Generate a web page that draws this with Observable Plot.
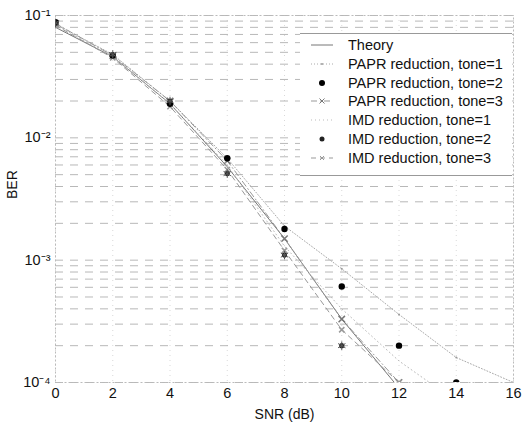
<!DOCTYPE html>
<html><head><meta charset="utf-8">
<script src="https://cdn.jsdelivr.net/npm/d3@7"></script>
<script src="https://cdn.jsdelivr.net/npm/@observablehq/plot@0.6"></script>
<style>
body{margin:0;background:#fff;font-family:"Liberation Sans",Arial,Helvetica,sans-serif;}
#wrap{position:relative;width:522px;height:424px;overflow:hidden;}
#legend{position:absolute;left:300px;top:33px;width:212px;height:143px;background:#fff;border-top:1px solid #999;border-bottom:1px solid #999;box-sizing:border-box;}
.ent{position:absolute;left:0;height:18px;display:flex;align-items:center;font-size:14.5px;color:#111;white-space:nowrap;}
.ent svg{margin-left:10px;margin-right:14px;}
</style></head><body><div id="wrap"></div>
<script>
// ---- data ----
const snrTheory = [0, 2, 4, 6, 8, 10, 12];
const berTheory = [0.080, 0.046, 0.019, 0.0058, 0.0015, 0.00033, 0.00009];

const snrPapr1 = [0, 2, 4, 6, 8, 10, 12, 14, 16];
const berPapr1 = [0.085, 0.048, 0.020, 0.0068, 0.0019, 0.00085, 0.00036, 0.00016, 0.00010];

const snrPapr2 = [0, 2, 4, 6, 8, 10, 12, 14];
const berPapr2 = [0.088, 0.047, 0.019, 0.0068, 0.0018, 0.00061, 0.00020, 0.00010];

const snrPapr3 = [0, 2, 4, 6, 8, 10, 12];
const berPapr3 = [0.086, 0.047, 0.020, 0.0065, 0.0015, 0.00033, 0.00010];

const snrImd1 = [0, 2, 4, 6, 8, 10, 12, 14];
const berImd1 = [0.084, 0.046, 0.019, 0.0060, 0.0013, 0.00040, 0.00015, 0.00007];

const snrImd2 = [0, 2, 4, 6, 8, 10];
const berImd2 = [0.087, 0.048, 0.020, 0.0051, 0.0011, 0.00020];

const snrImd3 = [0, 2, 4, 6, 8, 10, 12];
const berImd3 = [0.083, 0.045, 0.018, 0.0055, 0.0012, 0.00027, 0.00010];

const seriesNames = ["Theory", "PAPR reduction, tone=1", "PAPR reduction, tone=2", "PAPR reduction, tone=3",
  "IMD reduction, tone=1", "IMD reduction, tone=2", "IMD reduction, tone=3"];

const xTicks = [0, 2, 4, 6, 8, 10, 12, 14, 16];
const yMajor = [1e-4, 1e-3, 1e-2, 1e-1];
const yMinorMult = [2, 3, 4, 5, 6, 7, 8, 9];
const yTickLabels = ["10\u207B\u2074", "10\u207B\u00B3", "10\u207B\u00B2", "10\u207B\u00B9"];

// ---- build tables ----
const zip = (xs, ys) => xs.map((x, i) => ({snr: x, ber: ys[i]}));
const theory = zip(snrTheory, berTheory);
const papr1 = zip(snrPapr1, berPapr1);
const papr2 = zip(snrPapr2, berPapr2);
const papr3 = zip(snrPapr3, berPapr3);
const imd1 = zip(snrImd1, berImd1);
const imd2 = zip(snrImd2, berImd2);
const imd3 = zip(snrImd3, berImd3);

const yGrid = [];
for (const m of yMajor.slice(0, 3)) for (const k of yMinorMult) yGrid.push(+(m * k).toPrecision(3));
const yAll = yMajor.concat(yGrid);

const chart = Plot.plot({
  width: 522, height: 424,
  marginLeft: 55, marginRight: 9, marginTop: 15, marginBottom: 42,
  style: {fontFamily: '"Liberation Sans", Arial, sans-serif', fontSize: "14px", background: "#fff", color: "#111"},
  x: {domain: [0, 16], ticks: xTicks, label: null},
  y: {type: "log", domain: [1e-4, 1e-1], label: null},
  marks: [
    Plot.gridY(yAll, {stroke: "#888", strokeOpacity: 0.6, strokeDasharray: "8,7"}),
    Plot.gridX(xTicks, {stroke: "#aaa", strokeOpacity: 0.45, strokeDasharray: "1,4"}),
    Plot.frame({stroke: "#bbb", strokeDasharray: "2,2"}),
    Plot.axisX({ticks: xTicks, tickSize: 0, tickPadding: 5, fontSize: 14.5, label: null}),
    Plot.axisY({ticks: yMajor, tickSize: 0, tickPadding: 5, fontSize: 14.5, label: null,
      tickFormat: d => yTickLabels[yMajor.findIndex(v => Math.abs(v - d) / v < 1e-6)]}),
    Plot.text(["SNR (dB)"], {frameAnchor: "bottom", lineAnchor: "middle", dy: 32, fontSize: 14, fill: "#111"}),
    Plot.text(["BER"], {frameAnchor: "left", dx: -43, rotate: -90, fontSize: 14, fill: "#111"}),
    // series
    Plot.line(theory, {x: "snr", y: "ber", stroke: "#777", strokeWidth: 1, clip: true}),
    Plot.line(papr1, {x: "snr", y: "ber", stroke: "#aaa", strokeWidth: 1, strokeDasharray: "1,2", clip: true}),
    Plot.dot(papr1, {x: "snr", y: "ber", r: 1, fill: "#999", clip: true}),
    Plot.line(papr3, {x: "snr", y: "ber", stroke: "#999", strokeWidth: 1, strokeDasharray: "6,3,1,3", clip: true}),
    Plot.dot(papr3, {x: "snr", y: "ber", symbol: "times", r: 3, stroke: "#777", clip: true}),
    Plot.line(imd1, {x: "snr", y: "ber", stroke: "#bbb", strokeWidth: 1, strokeDasharray: "1,3", clip: true}),
    Plot.line(imd3, {x: "snr", y: "ber", stroke: "#999", strokeWidth: 1, strokeDasharray: "5,4", clip: true}),
    Plot.dot(imd3, {x: "snr", y: "ber", symbol: "times", r: 2.5, stroke: "#999", clip: true}),
    Plot.dot(papr2, {x: "snr", y: "ber", r: 3.2, fill: "#000", clip: true}),
    Plot.dot(imd2, {x: "snr", y: "ber", r: 2.6, fill: "#222", clip: true}),
    Plot.dot(imd2, {x: "snr", y: "ber", symbol: "asterisk", r: 4, stroke: "#555", strokeWidth: 1, clip: true})
  ]
});

const wrap = document.getElementById("wrap");
wrap.appendChild(chart);

// ---- legend (HTML overlay) ----
const samples = [
  '<line x1="1" y1="6" x2="23" y2="6" stroke="#777" stroke-width="1"/>',
  '<line x1="1" y1="6" x2="23" y2="6" stroke="#aaa" stroke-dasharray="1,2"/><circle cx="12" cy="6" r="1" fill="#999"/>',
  '<circle cx="12" cy="6" r="3" fill="#000"/>',
  '<line x1="1" y1="6" x2="23" y2="6" stroke="#999" stroke-dasharray="6,3,1,3"/><path d="M9.5 3.5L14.5 8.5M14.5 3.5L9.5 8.5" stroke="#777"/>',
  '<line x1="1" y1="6" x2="23" y2="6" stroke="#bbb" stroke-dasharray="1,3"/>',
  '<circle cx="12" cy="6" r="2.5" fill="#222"/>',
  '<line x1="1" y1="6" x2="23" y2="6" stroke="#999" stroke-dasharray="5,4"/><path d="M10 4L14 8M14 4L10 8" stroke="#999"/>'
];
const legend = document.createElement("div");
legend.id = "legend";
seriesNames.forEach((name, i) => {
  const e = document.createElement("div");
  e.className = "ent";
  e.style.top = (2 + i * 18.8) + "px";
  e.innerHTML = '<svg width="24" height="12">' + samples[i] + '</svg><span>' + name + '</span>';
  legend.appendChild(e);
});
wrap.appendChild(legend);
</script>
</body></html>
